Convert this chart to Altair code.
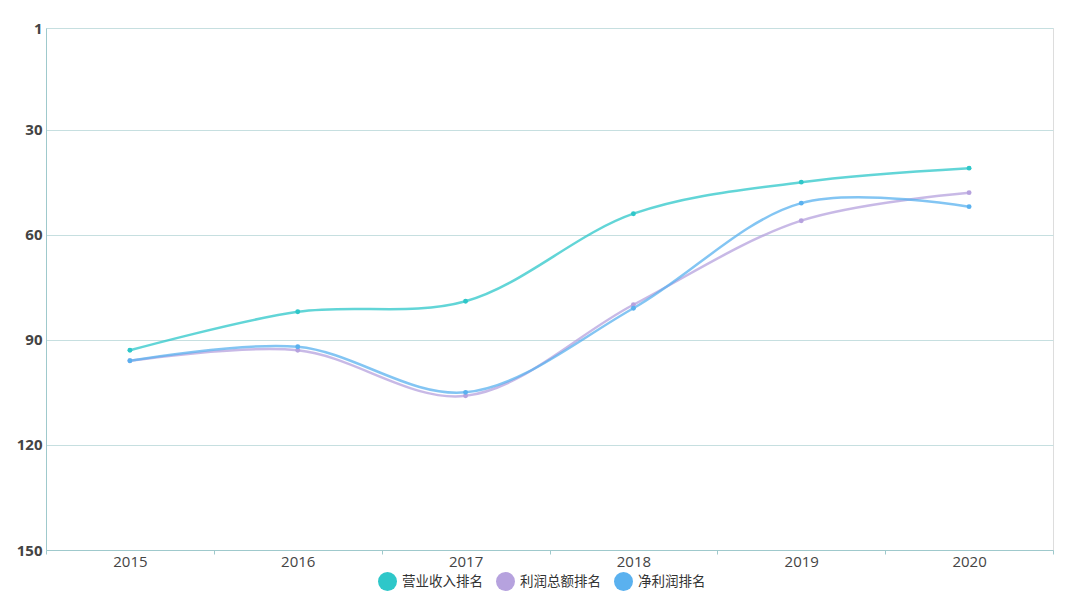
import altair as alt
import pandas as pd

years = ["2015", "2016", "2017", "2018", "2019", "2020"]
series_names = ["营业收入排名", "利润总额排名", "净利润排名"]
revenue_rank = [93, 82, 79, 54, 45, 41]
profit_rank = [96, 93, 106, 80, 56, 48]
net_profit_rank = [96, 92, 105, 81, 51, 52]
colors = ["#2ec7c9", "#b6a2de", "#5ab1ef"]
y_ticks = [1, 30, 60, 90, 120, 150]

rows = []
for name, vals in zip(series_names, [revenue_rank, profit_rank, net_profit_rank]):
    for y, v in zip(years, vals):
        rows.append({"year": y, "series": name, "rank": v})
df = pd.DataFrame(rows)

x_enc = alt.X(
    "year:N",
    sort=years,
    scale=alt.Scale(paddingInner=0, paddingOuter=0),
    axis=alt.Axis(
        title=None, labelAngle=0, labelFontSize=15, labelColor="#444",
        labelFont="Open Sans", domainColor="#9fc9cc", tickColor="#9fc9cc",
        tickBand="extent", tickSize=4, labelPadding=0, grid=False,
    ),
)
y_enc = alt.Y(
    "rank:Q",
    scale=alt.Scale(domain=[1, 150], reverse=True, nice=False, zero=False),
    axis=alt.Axis(
        title=None, values=y_ticks, labelFontSize=15, labelFontWeight="bold",
        labelColor="#444", labelFont="Open Sans", domainColor="#9fc9cc",
        ticks=False, labelPadding=4, gridColor="#c6dfe0", gridWidth=1,
    ),
)
color_enc = alt.Color(
    "series:N",
    sort=series_names,
    scale=alt.Scale(domain=series_names, range=colors),
    legend=alt.Legend(
        title=None, orient="none", legendX=332, legendY=544,
        direction="horizontal", symbolType="circle",
        symbolSize=361, symbolStrokeWidth=0, labelFontSize=13.5, labelColor="#333",
        labelFont="Noto Sans CJK SC", columnPadding=13, labelOffset=5,
        symbolOpacity=1,
    ),
)

base = alt.Chart(df).encode(x=x_enc, y=y_enc, color=color_enc)
lines = base.mark_line(interpolate="catmull-rom", strokeWidth=2.5, opacity=0.75)
points = base.mark_circle(size=24, opacity=1)

chart = (
    alt.layer(lines, points)
    .properties(
        width=1007, height=522,
        autosize=alt.AutoSizeParams(type="none"),
        padding={"left": 38, "top": 20, "right": 10, "bottom": 41},
    )
    .configure_view(strokeWidth=0)
    .configure(background="white")
)

chart.save("out.html", embed_options={"renderer": "svg", "actions": False})
